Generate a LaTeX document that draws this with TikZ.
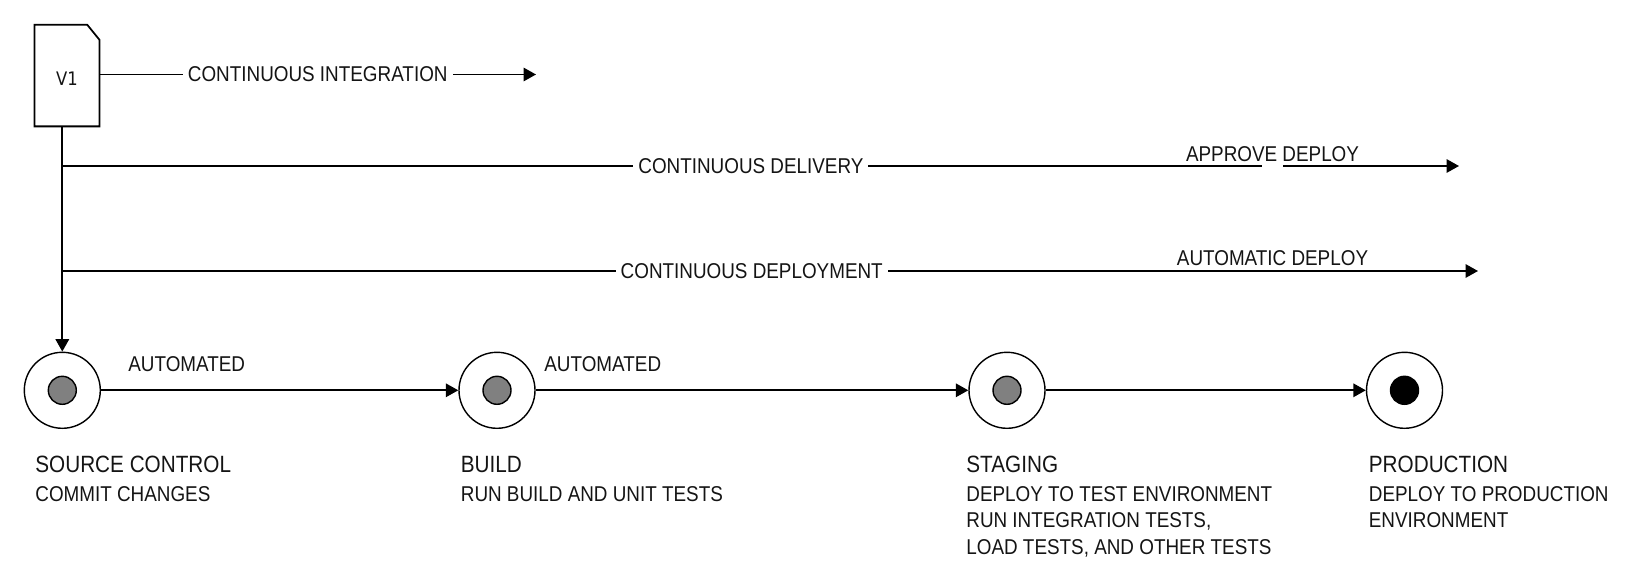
\documentclass[tikz,border=0pt]{standalone}
\usepackage{fontspec}
\setmainfont[FakeStretch=0.88]{Liberation Sans}
\newfontfamily\vfont[FakeStretch=0.88]{DejaVu Sans}
\usetikzlibrary{positioning,arrows.meta}
\tikzset{
stagenode/.style={circle, draw=black, line width=0.8pt, fill=white, minimum size=1.52cm, inner sep=0},
dotnode/.style={circle, draw=black, line width=0.8pt, minimum size=0.56cm, inner sep=0},
titlenode/.style={inner sep=0, anchor=north west, font=\fontsize{13.4}{15}\selectfont},
textnode/.style={inner sep=0, align=left, font=\fontsize{12.2}{15.1}\selectfont},
linelabel/.style={inner sep=0, font=\fontsize{12.2}{14}\selectfont},
gaplabel/.style={fill=white, inner ysep=0, inner xsep=0.1cm, font=\fontsize{12.2}{14}\selectfont},
>={Triangle[width=2.7mm,length=2.5mm]},
every path/.append style={line width=1pt}
}
\definecolor{stagegray}{HTML}{808080}
\begin{document}
\begin{tikzpicture}[text=black!92]
\useasboundingbox (0,0) rectangle (32.54,-11.58);

%Version box
\node[minimum width=1.264cm, minimum height=1.996cm, inner sep=0] (version) at(1.34,-1.512) {\raisebox{-1.9mm}[0pt][0pt]{\vfont\fontsize{10.6}{12}\selectfont V1}};
\draw (version.south west) -- (version.north west) -- ([xshift=-0.244cm]version.north east) -- ([yshift=-0.3cm]version.north east) -- (version.south east) -- cycle;

%Stages
\node[stagenode] (source) at(1.246,-7.806) {};
\node[stagenode] (build) at(9.94,-7.806) {};
\node[stagenode] (staging) at(20.14,-7.806) {};
\node[stagenode] (production) at(28.09,-7.806) {};
\node[dotnode, fill=stagegray] (sourcedot) at(source) {};
\node[dotnode, fill=stagegray] (builddot) at(build) {};
\node[dotnode, fill=stagegray] (stagingdot) at(staging) {};
\node[dotnode, fill=black] (productiondot) at(production) {};

%Captions
\node[titlenode] (sourcetitle) at(0.69,-9.1) {SOURCE CONTROL};
\node[textnode, below right=0.24cm and 0cm of sourcetitle.south west] (sourcetext) {COMMIT CHANGES};
\node[titlenode] (buildtitle) at(9.2,-9.1) {BUILD};
\node[textnode, below right=0.24cm and 0cm of buildtitle.south west] (buildtext) {RUN BUILD AND UNIT TESTS};
\node[titlenode] (stagingtitle) at(19.31,-9.1) {STAGING};
\node[textnode, below right=0.24cm and 0cm of stagingtitle.south west] (stagingtext) {DEPLOY TO TEST ENVIRONMENT\\RUN INTEGRATION TESTS,\\LOAD TESTS, AND OTHER TESTS};
\node[titlenode] (productiontitle) at(27.36,-9.1) {PRODUCTION};
\node[textnode, below right=0.24cm and 0cm of productiontitle.south west] (productiontext) {DEPLOY TO PRODUCTION\\ENVIRONMENT};

%Free ends
\coordinate (integrationend) at(10.72,-1.49);
\coordinate (deliverystart) at(1.246,-3.32);
\coordinate (deliveryend) at(29.18,-3.32);
\coordinate (gapleft) at(25.24,-3.32);
\coordinate (gapright) at(25.66,-3.32);
\coordinate (deploymentstart) at(1.246,-5.42);
\coordinate (deploymentend) at(29.56,-5.42);

\node[linelabel, above=0.06cm] (approve) at(25.45,-3.32) {APPROVE DEPLOY};
\node[linelabel, above=0.08cm] (automatic) at(25.45,-5.42) {AUTOMATIC DEPLOY};

\draw[->] (version.east |- integrationend) --node[gaplabel] {CONTINUOUS INTEGRATION} (integrationend);
\draw[->] (source.north |- version.south) -- (source);
\draw (deliverystart) --node[gaplabel, pos=0.574] {CONTINUOUS DELIVERY} (gapleft);
\draw[->] (gapright) -- (deliveryend);
\draw[->] (deploymentstart) --node[gaplabel, pos=0.487] {CONTINUOUS DEPLOYMENT} (deploymentend);

\draw[->] (source) --node[linelabel, pos=0.24, above=0.36cm] {AUTOMATED} (build);
\draw[->] (build) --node[linelabel, pos=0.155, above=0.36cm] {AUTOMATED} (staging);
\draw[->] (staging) -- (production);

\end{tikzpicture}
\end{document}
